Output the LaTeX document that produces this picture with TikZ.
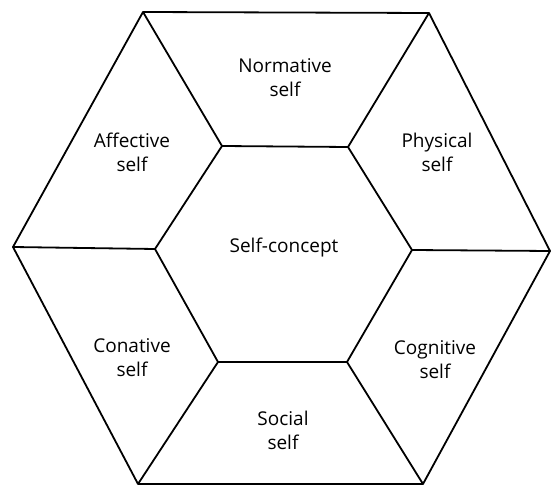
\documentclass[tikz,border=0pt]{standalone}
\usepackage{fontspec}
\setmainfont{Open Sans}
\usetikzlibrary{calc}

\begin{document}
\begin{tikzpicture}[
  x=1pt, y=-1pt,
  every node/.style={font=\fontsize{19}{24}\selectfont, align=center, inner sep=0pt},
  edge/.style={line width=1.8pt, line join=round, draw=black}
]
\useasboundingbox (0,0) rectangle (552,486);
% outer hexagon
\coordinate (otl) at (143,12);
\coordinate (otr) at (429,13);
\coordinate (or)  at (550,251);
\coordinate (obr) at (423,484);
\coordinate (obl) at (138,484);
\coordinate (ol)  at (13,247);
% inner hexagon
\coordinate (itl) at (222,146);
\coordinate (itr) at (348,147);
\coordinate (ir)  at (412,250);
\coordinate (ibr) at (347,362);
\coordinate (ibl) at (218,362);
\coordinate (il)  at (155,249);

\draw[edge] (otl) -- (otr) -- (or) -- (obr) -- (obl) -- (ol) -- cycle;
\draw[edge] (itl) -- (itr) -- (ir) -- (ibr) -- (ibl) -- (il) -- cycle;
\draw[edge] (otl) -- (itl);
\draw[edge] (otr) -- (itr);
\draw[edge] (or) -- (ir);
\draw[edge] (obr) -- (ibr);
\draw[edge] (obl) -- (ibl);
\draw[edge] (ol) -- (il);

\node (normative) at (285,78) {Normative\\self};
\node (affective) at (132,152) {Affective\\self};
\node (physical) at (437,152) {Physical\\self};
\node (concept) at (284,248) {Self-concept};
\node (conative) at (132,358) {Conative\\self};
\node (cognitive) at (435,360) {Cognitive\\self};
\node (social) at (283,430) {Social\\self};
\end{tikzpicture}
\end{document}
